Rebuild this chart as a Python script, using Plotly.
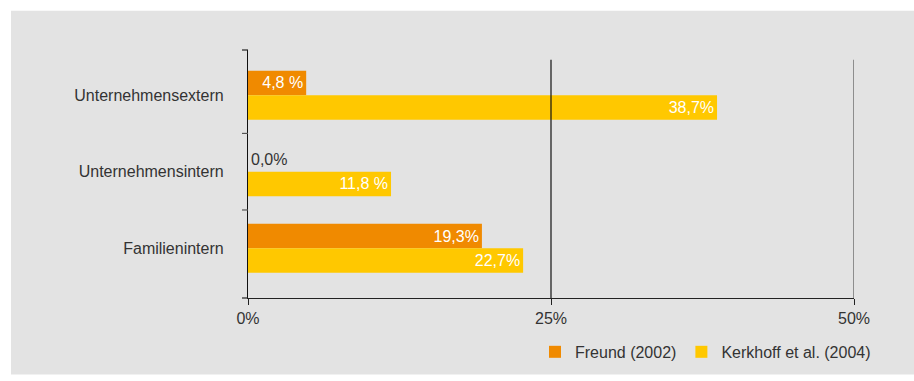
import plotly.graph_objects as go

categories = ["Unternehmensextern", "Unternehmensintern", "Familienintern"]
freund = [4.8, 0.0, 19.3]
freund_text = ["4,8 %", "0,0%", "19,3%"]
kerkhoff = [38.7, 11.8, 22.7]
kerkhoff_text = ["38,7%", "11,8 %", "22,7%"]
x_ticks = [0, 25, 50]
x_tick_labels = ["0%", "25%", "50%"]

ORANGE = "#F08A00"
YELLOW = "#FFC800"
BG = "#E3E3E3"
TXT = "#333333"
FONT = "Liberation Sans, Arial, sans-serif"

fig = go.Figure()
fig.add_trace(go.Bar(
    y=categories, x=freund, orientation="h", name="Freund (2002)",
    marker=dict(color=ORANGE, line=dict(width=0)),
    text=freund_text, textposition=["inside", "outside", "inside"],
    insidetextanchor="end",
    insidetextfont=dict(color="white", size=16, family=FONT),
    outsidetextfont=dict(color=TXT, size=16, family=FONT),
    textangle=0, cliponaxis=False,
))
fig.add_trace(go.Bar(
    y=categories, x=kerkhoff, orientation="h", name="Kerkhoff et al. (2004)",
    marker=dict(color=YELLOW, line=dict(width=0)),
    text=kerkhoff_text, textposition="inside",
    insidetextanchor="end",
    insidetextfont=dict(color="white", size=16, family=FONT),
    textangle=0, cliponaxis=False,
))

L, R, T, B = 248, 60, 50, 78
W, H = 914, 381
pw, ph = W - L - R, H - T - B

shapes = []
# grey panel background
shapes.append(dict(type="rect", xref="paper", yref="paper",
                   x0=(11 - L) / pw, x1=(W - L) / pw,
                   y0=(T + ph - H) / ph, y1=(T + ph - 10) / ph,
                   fillcolor=BG, line=dict(width=0), layer="below"))
# vertical gridlines
for v in x_ticks[1:]:
    shapes.append(dict(type="line", xref="x", yref="paper", x0=v, x1=v,
                       y0=0, y1=(ph - 10) / ph,
                       line=dict(color="#111111" if v == 25 else "#555555", width=1.2),
                       layer="above"))
# y axis tick marks at category boundaries
tick_len = 6 / pw
for yb in [0.5, 1.5]:
    shapes.append(dict(type="line", xref="paper", yref="y", x0=-tick_len, x1=0,
                       y0=yb, y1=yb, line=dict(color="#555555", width=1.2)))
for yp in [0, 1]:
    shapes.append(dict(type="line", xref="paper", yref="paper", x0=-tick_len, x1=0,
                       y0=yp, y1=yp, line=dict(color="#222222", width=1.2)))

fig.update_layout(
    width=W, height=H,
    margin=dict(l=L, r=R, t=T, b=B, pad=0),
    paper_bgcolor="white", plot_bgcolor=BG,
    barmode="group", bargap=0.36, bargroupgap=0,
    font=dict(family=FONT, size=16, color=TXT),
    shapes=shapes,
    showlegend=True,
    legend=dict(orientation="h", x=(876 - L) / pw, xanchor="right",
                y=(ph + T - 358) / ph, yanchor="middle",
                bgcolor="rgba(0,0,0,0)", font=dict(size=16, color=TXT),
                traceorder="normal", itemwidth=30),
    xaxis=dict(range=[0, 50], tickvals=x_ticks, ticktext=x_tick_labels,
               showgrid=False, zeroline=False, showline=True,
               linecolor="#222222", linewidth=1.2,
               ticks="outside", ticklen=6, tickcolor="#222222",
               tickfont=dict(size=16, color=TXT), fixedrange=True),
    yaxis=dict(type="category", categoryorder="array", categoryarray=categories,
               range=[2.65, -0.59], showgrid=False, zeroline=False,
               showline=True, linecolor="#111111", linewidth=1.2,
               ticks="", ticklabelstandoff=20,
               tickfont=dict(size=16, color=TXT), fixedrange=True),
)

fig.write_html("out.html")
